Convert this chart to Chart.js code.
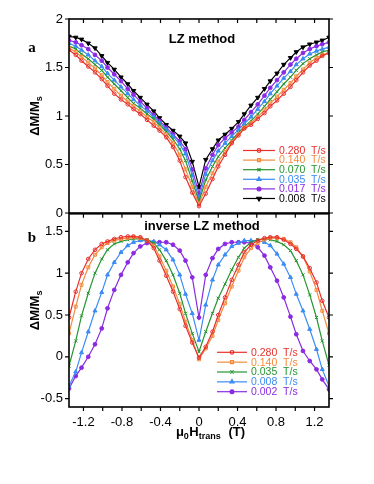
<!DOCTYPE html>
<html>
<head>
<meta charset="utf-8">
<script src="https://cdn.jsdelivr.net/npm/chart.js@4.4.1/dist/chart.umd.min.js"></script>
<style>
body { margin: 0; background: #fff; }
#wrap { position: relative; width: 374px; height: 484px; }
canvas { position: absolute; left: 0; }
#ca { top: 0; }
#cb { top: 200px; }
</style>
</head>
<body>
<div id="wrap">
  <canvas id="ca" width="374" height="235" style="width:374px;height:235px"></canvas>
  <canvas id="cb" width="374" height="284" style="width:374px;height:284px"></canvas>
</div>
<script>
// transverse field (T)
const field = [-1.35,-1.28,-1.22,-1.15,-1.08,-1.01,-0.95,-0.88,-0.81,-0.74,-0.68,-0.61,-0.54,-0.47,-0.41,-0.34,-0.27,-0.2,-0.14,-0.07,0,
  0.07,0.14,0.2,0.27,0.34,0.41,0.47,0.54,0.61,0.68,0.74,0.81,0.88,0.95,1.01,1.08,1.15,1.22,1.28,1.35]

// panel a - LZ method
const lz280 = [1.68,1.63,1.57,1.51,1.45,1.38,1.31,1.23,1.17,1.12,1.07,1.02,0.96,0.90,0.85,0.78,0.68,0.54,0.37,0.21,0.07,
  0.20,0.35,0.48,0.60,0.72,0.80,0.87,0.91,0.97,1.03,1.10,1.16,1.23,1.30,1.37,1.45,1.52,1.57,1.62,1.65]
const lz140 = [1.70,1.66,1.61,1.55,1.49,1.42,1.35,1.28,1.21,1.15,1.10,1.05,0.99,0.94,0.88,0.81,0.72,0.60,0.45,0.27,0.09,
  0.27,0.41,0.53,0.63,0.73,0.81,0.88,0.93,0.99,1.06,1.13,1.20,1.27,1.34,1.41,1.48,1.55,1.60,1.63,1.65]
const lz070 = [1.72,1.69,1.64,1.59,1.53,1.47,1.40,1.33,1.26,1.19,1.13,1.08,1.02,0.97,0.91,0.84,0.76,0.66,0.54,0.33,0.12,
  0.34,0.48,0.58,0.67,0.75,0.83,0.89,0.95,1.02,1.10,1.17,1.25,1.33,1.40,1.47,1.54,1.59,1.63,1.66,1.68]
const lz035 = [1.75,1.72,1.68,1.63,1.57,1.51,1.44,1.37,1.30,1.23,1.17,1.11,1.05,0.99,0.93,0.86,0.79,0.71,0.61,0.39,0.15,
  0.40,0.54,0.64,0.72,0.79,0.86,0.92,0.99,1.07,1.15,1.23,1.31,1.39,1.46,1.53,1.59,1.64,1.67,1.69,1.71]
const lz017 = [1.78,1.76,1.73,1.69,1.63,1.57,1.50,1.43,1.36,1.28,1.22,1.15,1.08,1.01,0.95,0.88,0.81,0.74,0.66,0.45,0.20,
  0.46,0.60,0.70,0.77,0.83,0.89,0.96,1.04,1.12,1.21,1.29,1.37,1.45,1.53,1.59,1.65,1.69,1.72,1.74,1.76]
const lz008 = [1.82,1.81,1.79,1.75,1.70,1.62,1.55,1.48,1.40,1.33,1.26,1.19,1.12,1.05,0.98,0.91,0.85,0.79,0.72,0.53,0.27,
  0.55,0.66,0.75,0.81,0.87,0.94,1.02,1.11,1.19,1.28,1.36,1.44,1.53,1.60,1.66,1.71,1.74,1.76,1.78,1.81]

// panel b - inverse LZ method
const inv280 = [0.47,0.78,1.00,1.17,1.28,1.35,1.38,1.41,1.43,1.44,1.44,1.43,1.39,1.30,1.15,0.97,0.78,0.57,0.37,0.17,-0.01,
  0.12,0.30,0.50,0.71,0.92,1.10,1.25,1.34,1.39,1.42,1.43,1.43,1.40,1.35,1.29,1.20,1.06,0.89,0.67,0.47]
const inv140 = [0.28,0.60,0.86,1.07,1.22,1.31,1.36,1.39,1.41,1.42,1.43,1.42,1.39,1.33,1.20,1.03,0.84,0.63,0.42,0.20,-0.03,
  0.10,0.25,0.44,0.64,0.84,1.03,1.19,1.30,1.36,1.40,1.42,1.42,1.41,1.37,1.31,1.20,1.02,0.80,0.55,0.28]
const inv035 = [-0.11,0.19,0.49,0.76,1.00,1.17,1.28,1.35,1.38,1.40,1.41,1.41,1.40,1.36,1.28,1.15,0.98,0.76,0.52,0.28,0.06,
  0.30,0.52,0.70,0.87,1.04,1.19,1.30,1.37,1.40,1.41,1.40,1.38,1.34,1.27,1.15,0.98,0.74,0.47,0.19,-0.10]
const inv008 = [-0.35,-0.18,0.05,0.30,0.55,0.77,0.98,1.13,1.25,1.33,1.37,1.39,1.39,1.38,1.34,1.28,1.16,0.98,0.75,0.52,0.20,
  0.62,0.92,1.10,1.22,1.32,1.36,1.39,1.39,1.39,1.37,1.33,1.23,1.11,0.95,0.75,0.55,0.33,0.09,-0.15,-0.35]
const inv002 = [-0.38,-0.23,-0.13,0.00,0.15,0.34,0.58,0.80,0.98,1.13,1.24,1.32,1.36,1.37,1.37,1.37,1.34,1.27,1.15,0.95,0.47,
  0.98,1.18,1.29,1.35,1.37,1.37,1.37,1.36,1.31,1.21,1.07,0.91,0.71,0.48,0.27,0.07,-0.05,-0.15,-0.27,-0.39]

const sweepA = ['0.280', '0.140', '0.070', '0.035', '0.017', '0.008']
const sweepB = ['0.280', '0.140', '0.035', '0.008', '0.002']

// tick labels / tick marks
const xTicks = [-1.2, -0.8, -0.4, 0, 0.4, 0.8, 1.2]
const xMinor = [-1.2, -1, -0.8, -0.6, -0.4, -0.2, 0, 0.2, 0.4, 0.6, 0.8, 1, 1.2]
const yTicksA = [0, 0.5, 1, 1.5, 2]
const yTicksB = [-0.5, 0, 0.5, 1, 1.5]

const FONT = "'Liberation Sans', Arial, sans-serif"
Chart.defaults.font.family = FONT
Chart.defaults.font.size = 13
Chart.defaults.color = '#000'

// one look per sweep rate
const looks = {
    '0.280': { color: '#e8302c', pointStyle: 'circle', radius: 1.8, fill: false },
    '0.140': { color: '#f58a3c', pointStyle: 'rect', radius: 2.1, fill: false },
    '0.070': { color: '#24952f', pointStyle: 'crossRot', radius: 2.2, fill: true },
    '0.035': { color: '#3b8cf5', pointStyle: 'triangle', radius: 2.3, fill: true },
    '0.017': { color: '#8a2be2', pointStyle: 'circle', radius: 1.9, fill: true },
    '0.008': { color: '#000000', pointStyle: 'triangle', radius: 2.5, fill: true, rotation: 180 },
    '0.002': { color: '#8a2be2', pointStyle: 'circle', radius: 1.9, fill: true }
}
const looksB = Object.assign({}, looks, {
    '0.035': looks['0.070'],
    '0.008': looks['0.035']
})

function makeSet(label, values, look) {
    return {
        label: label,
        data: values.map((v, i) => ({ x: field[i], y: v })),
        borderColor: look.color,
        backgroundColor: look.fill ? look.color : 'rgba(255,255,255,0)',
        borderWidth: 1.2,
        pointStyle: look.pointStyle,
        pointRadius: look.radius,
        pointRotation: look.rotation || 0,
        pointBorderWidth: 1,
        pointBorderColor: look.color,
        pointBackgroundColor: look.fill ? look.color : 'rgba(255,255,255,0)',
        tension: 0
    }
}

// text with a subscript part: parts = [[text, isSub], ...]
function subText(ctx, parts, x, y, size) {
    const big = 'bold ' + size + 'px ' + FONT
    const small = 'bold ' + Math.round(size * 0.7) + 'px ' + FONT
    let w = 0
    parts.forEach(p => { ctx.font = p[1] ? small : big; w += ctx.measureText(p[0]).width })
    let cx = x - w / 2
    ctx.textAlign = 'left'
    ctx.textBaseline = 'alphabetic'
    parts.forEach(p => {
        ctx.font = p[1] ? small : big
        ctx.fillText(p[0], cx, p[1] ? y + 3 : y)
        cx += ctx.measureText(p[0]).width + (p[1] ? 0.5 : 0)
    })
}

function decor(cfg) {
    return {
        id: 'decor',
        afterDatasetsDraw(chart) {
            const ctx = chart.ctx
            const ca = chart.chartArea
            const x = chart.scales.x
            const y = chart.scales.y
            ctx.save()
            ctx.strokeStyle = '#000'
            ctx.lineWidth = 1.6
            ctx.strokeRect(ca.left, ca.top, ca.right - ca.left, ca.bottom - ca.top)

            // small tick marks
            ctx.lineWidth = 1.2
            ctx.beginPath()
            xMinor.forEach(v => {
                const px = x.getPixelForValue(v)
                ctx.moveTo(px, ca.top); ctx.lineTo(px, ca.top + 4)
                if (cfg.bottomTicks) { ctx.moveTo(px, ca.bottom); ctx.lineTo(px, ca.bottom + 4) }
            })
            cfg.yTicks.forEach(v => {
                const py = y.getPixelForValue(v)
                ctx.moveTo(ca.left - 4, py); ctx.lineTo(ca.left, py)
                ctx.moveTo(ca.right, py); ctx.lineTo(ca.right + 4, py)
            })
            ctx.stroke()

            // method title inside the plot
            ctx.fillStyle = '#000'
            ctx.font = 'bold 13px ' + FONT
            ctx.textAlign = 'center'
            ctx.textBaseline = 'middle'
            ctx.fillText(cfg.title, 202, ca.top + cfg.titleDy)

            // panel letter
            ctx.font = 'bold 15px "Liberation Serif", "DejaVu Serif", serif'
            ctx.fillText(cfg.letter, 32, ca.top + cfg.letterDy)

            // y axis title
            ctx.save()
            ctx.translate(39, (ca.top + ca.bottom) / 2)
            ctx.rotate(-Math.PI / 2)
            subText(ctx, [['\u0394M/M', false], ['s', true]], 0, 0, 13)
            ctx.restore()

            // x axis title
            if (cfg.xTitle) {
                subText(ctx, [['\u03bc', false], ['0', true], ['H', false], ['trans', true], ['  (T)', false]], 210, ca.bottom + 29, 13)
            }

            // legend
            const draw = Chart.helpers && Chart.helpers.drawPoint
            chart.data.datasets.forEach((ds, i) => {
                const ly = cfg.legY + i * cfg.legStep
                ctx.strokeStyle = ds.borderColor
                ctx.lineWidth = 1.2
                ctx.beginPath()
                ctx.moveTo(cfg.legX0, ly); ctx.lineTo(cfg.legX1, ly)
                ctx.stroke()
                ctx.fillStyle = ds.pointBackgroundColor
                if (draw) {
                    draw(ctx, { pointStyle: ds.pointStyle, radius: ds.pointRadius, rotation: ds.pointRotation, borderWidth: 1 },
                        (cfg.legX0 + cfg.legX1) / 2, ly)
                }
                ctx.fillStyle = ds.borderColor
                ctx.font = '10.5px ' + FONT
                ctx.textAlign = 'left'
                ctx.textBaseline = 'middle'
                ctx.fillText(ds.label + '  T/s', cfg.legX1 + 4, ly + 0.5)
            })
            ctx.restore()
        }
    }
}

function yScale(min, max, ticks, width) {
    return {
        min: min, max: max,
        grid: { display: false, drawTicks: false },
        border: { display: false },
        ticks: { padding: 6, font: { size: 13 }, callback: v => String(v) },
        afterBuildTicks: s => { s.ticks = ticks.map(v => ({ value: v })) },
        afterFit: s => { s.width = width }
    }
}

// panel a
new Chart(document.getElementById('ca'), {
    type: 'line',
    data: {
        datasets: [lz280, lz140, lz070, lz035, lz017, lz008].map((v, i) => makeSet(sweepA[i], v, looks[sweepA[i]]))
    },
    options: {
        responsive: false,
        animation: false,
        layout: { padding: { top: 19, right: 45, bottom: 22, left: 0 } },
        plugins: { legend: { display: false }, tooltip: { enabled: false } },
        scales: {
            x: { type: 'linear', min: -1.35, max: 1.35, display: false },
            y: yScale(0, 2, yTicksA, 69)
        }
    },
    plugins: [decor({ yTicks: yTicksA, bottomTicks: false, title: 'LZ method', titleDy: 20, letter: 'a', letterDy: 29,
        legX0: 243, legX1: 275, legY: 150.5, legStep: 9.6 })]
})

// panel b
new Chart(document.getElementById('cb'), {
    type: 'line',
    data: {
        datasets: [inv280, inv140, inv035, inv008, inv002].map((v, i) => makeSet(sweepB[i], v, looksB[sweepB[i]]))
    },
    options: {
        responsive: false,
        animation: false,
        layout: { padding: { top: 13, right: 45, bottom: 0, left: 0 } },
        plugins: { legend: { display: false }, tooltip: { enabled: false } },
        scales: {
            x: {
                type: 'linear', min: -1.35, max: 1.35,
                grid: { display: false, drawTicks: false },
                border: { display: false },
                ticks: { padding: 8, maxRotation: 0, font: { size: 13 }, callback: v => String(v) },
                afterBuildTicks: s => { s.ticks = xTicks.map(v => ({ value: v })) },
                afterFit: s => { s.height = 77 }
            },
            y: yScale(-0.6, 1.71, yTicksB, 69)
        }
    },
    plugins: [decor({ yTicks: yTicksB, bottomTicks: true, title: 'inverse LZ method', titleDy: 13, letter: 'b', letterDy: 24,
        legX0: 217, legX1: 247, legY: 352.3 - 200, legStep: 9.85, xTitle: true })]
})
</script>
</body>
</html>
